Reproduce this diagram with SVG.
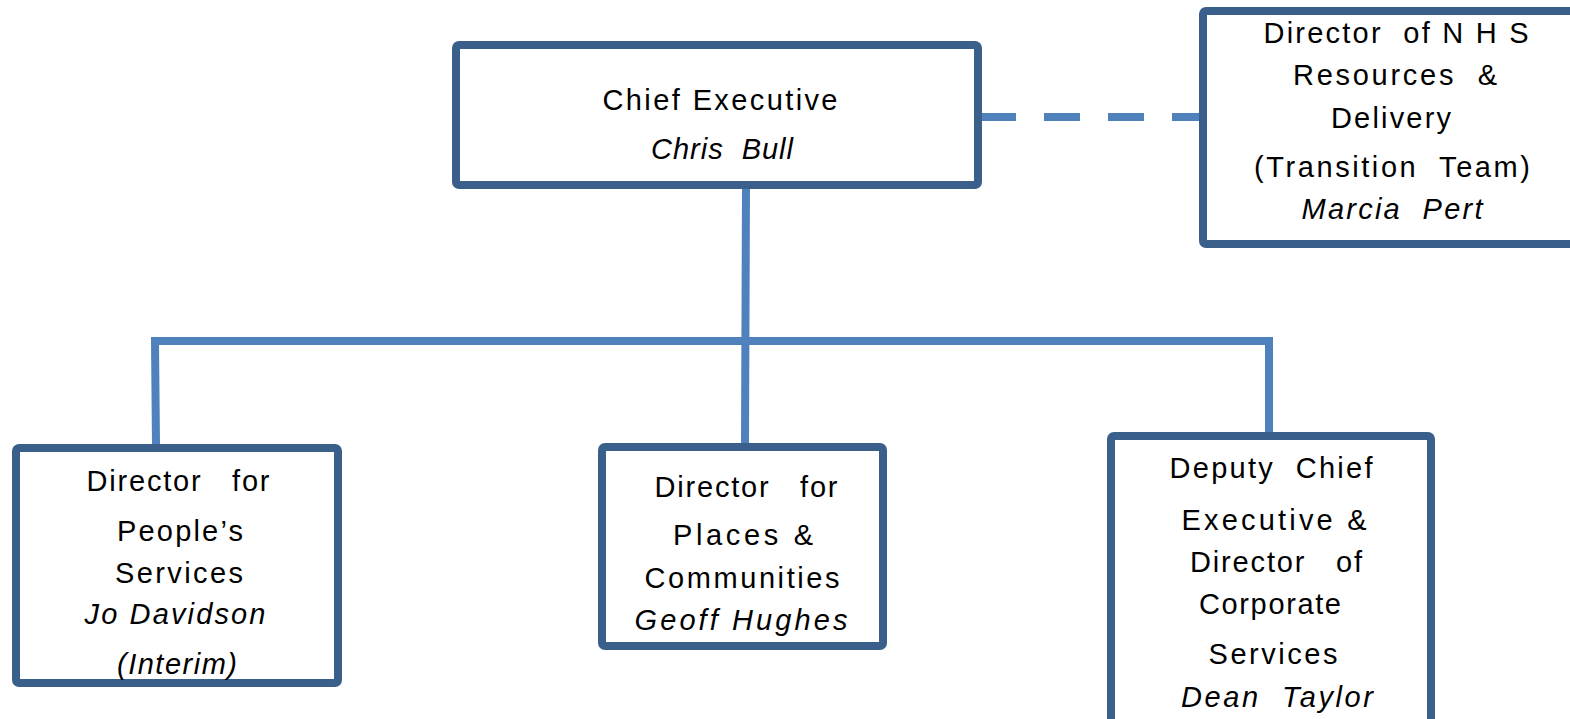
<svg xmlns="http://www.w3.org/2000/svg" width="1570" height="719" viewBox="0 0 1570 719">
<style>
.box{fill:#fff;stroke:#3A5F8B;stroke-width:8}
.ln{fill:none;stroke:#4F81BD;stroke-width:8}
text{font-family:"Liberation Sans",Arial,sans-serif;font-size:29px;fill:#000;text-anchor:middle;white-space:pre}
.i{font-style:italic}
</style>
<rect width="1570" height="719" fill="#fff"/>
<g id="connectors">
<line class="ln" x1="980" y1="117" x2="1201" y2="117" stroke-dasharray="36,28"/>
<line class="ln" x1="746" y1="187" x2="745" y2="443"/>
<polyline class="ln" points="156,445 155,341 1269,341 1269,433"/>
</g>
<g id="chief-executive">
<rect class="box" x="456" y="45" width="522" height="140" rx="3"/>
<text x="720" y="110" textLength="235" lengthAdjust="spacing">Chief Executive</text>
<text class="i" x="722" y="159" textLength="142" lengthAdjust="spacing">Chris  Bull</text>
</g>
<g id="director-nhs">
<rect class="box" x="1203" y="11" width="380" height="233" rx="3"/>
<text x="1396" y="43" textLength="265" lengthAdjust="spacing">Director  of N H S</text>
<text x="1395" y="85" textLength="204" lengthAdjust="spacing">Resources  &amp;</text>
<text x="1391" y="128" textLength="120" lengthAdjust="spacing">Delivery</text>
<text x="1392" y="177" textLength="276" lengthAdjust="spacing">(Transition  Team)</text>
<text class="i" x="1392" y="219" textLength="181" lengthAdjust="spacing">Marcia  Pert</text>
</g>
<g id="director-people">
<rect class="box" x="16" y="448" width="322" height="235" rx="3"/>
<text x="178" y="491" textLength="183" lengthAdjust="spacing">Director   for</text>
<text x="180" y="541" textLength="126" lengthAdjust="spacing">People’s</text>
<text x="179" y="583" textLength="128" lengthAdjust="spacing">Services</text>
<text class="i" x="175" y="624" textLength="181" lengthAdjust="spacing">Jo Davidson</text>
<text class="i" x="177" y="674" textLength="120" lengthAdjust="spacing">(Interim)</text>
</g>
<g id="director-places">
<rect class="box" x="602" y="447" width="281" height="199" rx="3"/>
<text x="746" y="497" textLength="183" lengthAdjust="spacing">Director   for</text>
<text x="743" y="545" textLength="140" lengthAdjust="spacing">Places &amp;</text>
<text x="742" y="588" textLength="195" lengthAdjust="spacing">Communities</text>
<text class="i" x="741" y="630" textLength="213" lengthAdjust="spacing">Geoff Hughes</text>
</g>
<g id="deputy-chief">
<rect class="box" x="1111" y="436" width="320" height="300" rx="3"/>
<text x="1271" y="478" textLength="203" lengthAdjust="spacing">Deputy  Chief</text>
<text x="1274" y="530" textLength="185" lengthAdjust="spacing">Executive &amp;</text>
<text x="1276" y="572" textLength="172" lengthAdjust="spacing">Director   of</text>
<text x="1270" y="614" textLength="142" lengthAdjust="spacing">Corporate</text>
<text x="1273" y="664" textLength="129" lengthAdjust="spacing">Services</text>
<text class="i" x="1277" y="707" textLength="192" lengthAdjust="spacing">Dean  Taylor</text>
</g>
</svg>
